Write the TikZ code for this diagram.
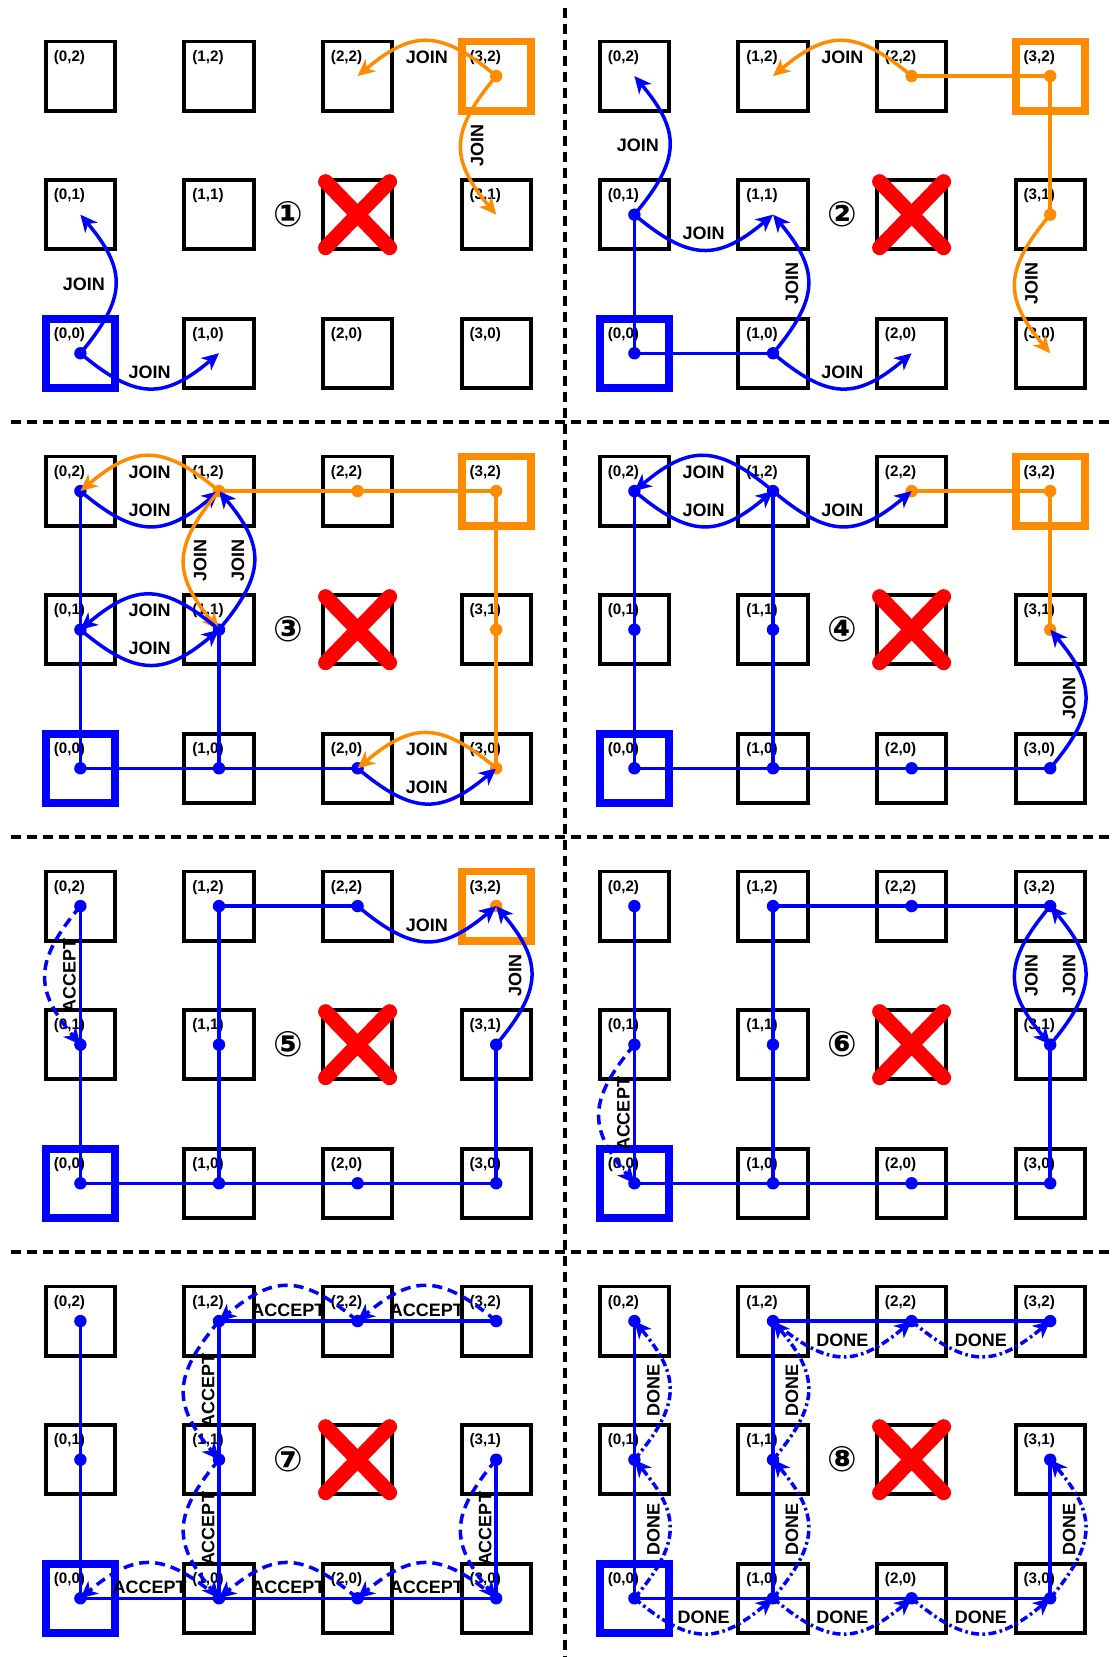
\documentclass[tikz,border=0pt]{standalone}
\usepackage{fontspec}
\setmainfont{Liberation Sans}
\newfontfamily\circfont{DejaVu Sans}
\usetikzlibrary{arrows.meta}
\definecolor{dkorange}{RGB}{255,140,0}

\begin{document}
\begin{tikzpicture}[x=0.5pt, y=0.5pt,
    cell/.style={draw, line width=1.95pt, minimum width=34.6pt, minimum height=34.6pt, inner sep=0pt, outer sep=0pt},
    hot/.style={line width=3.9pt},
    idx/.style={font=\bfseries\fontsize{7.6}{8}\selectfont, inner sep=0pt},
    txt/.style={font=\bfseries\fontsize{9}{10}\selectfont, inner sep=0pt, text=black},
    toN/.style={txt, shift={(0,#1)}}, toN/.default=16,
    toS/.style={txt, shift={(0,-#1)}}, toS/.default=16,
    toE/.style={txt, shift={(#1,0)}, rotate=90}, toE/.default=16,
    toW/.style={txt, shift={(-#1,0)}, rotate=90}, toW/.default=16,
    toWh/.style={txt, shift={(-#1,0)}}, toWh/.default=31.5,
    treeline/.style={line width=1.75pt},
    ahead/.style={-{Stealth[length=8.5pt, width=8pt, inset=2.5pt]}},
    joinarr/.style={treeline, ahead},
    accarr/.style={treeline, ahead, dash pattern=on 5pt off 3pt},
    donearr/.style={treeline, ahead, dash pattern=on 4pt off 1.7pt on 1.3pt off 1.7pt},
    bendarc/.style={bend right=40, looseness=1.34},
    sep/.style={line width=1.75pt, dash pattern=on 5pt off 3pt},
    redx/.style={red, line width=7.5pt, line cap=round}]
    \useasboundingbox (0,0) rectangle (1113,1657);

    % Separators
    \draw[sep] (565,1649) -- (565,0);
    \foreach \y in {1235,820,405} \draw[sep] (11,\y) -- (1113,\y);

    % Grids of the eight steps
    \foreach \pn/\col/\row/\num in {1/0/0/①, 2/1/0/②, 3/0/1/③, 4/1/1/④, 5/0/2/⑤, 6/1/2/⑥, 7/0/3/⑦, 8/1/3/⑧} {
        \begin{scope}[shift={(80.4+554*\col, 1303.7-415*\row)}]
            \foreach \i in {0,...,3} \foreach \j in {0,1,2} {
                \node[cell] (p\pn-\i\j) at (\i*138.6, \j*138.6) {};
                \ifnum\i\j=21 \else
                    \node[idx, shift={(-11,19)}] at (\i*138.6, \j*138.6) {(\i,\j)};
                \fi
            }
            \draw[redx] (245.2,105.6) -- (309.2,171.6);
            \draw[redx] (245.2,171.6) -- (309.2,105.6);
            \node[font=\circfont\bfseries\fontsize{17.5}{18}\selectfont, inner sep=0pt] (num\pn) at (207.9,138.6) {\num};
        \end{scope}
    }

    % Roots
    \foreach \pn in {1,...,8} \draw[hot, blue] (p\pn-00.south west) rectangle (p\pn-00.north east);
    \foreach \pn in {1,...,5} \draw[hot, dkorange] (p\pn-32.south west) rectangle (p\pn-32.north east);

    % Step 1
    \fill[blue] (p1-00.center) circle[radius=3.1pt];
    \fill[dkorange] (p1-32.center) circle[radius=3.1pt];
    \draw[joinarr, blue] (p1-00.center) to[bendarc] node[midway, toWh] {JOIN} (p1-01.center);
    \draw[joinarr, blue] (p1-00.center) to[bendarc] node[midway, toN] {JOIN} (p1-10.center);
    \draw[joinarr, dkorange] (p1-32.center) to[bendarc] node[midway, toS] {JOIN} (p1-22.center);
    \draw[joinarr, dkorange] (p1-32.center) to[bendarc] node[midway, toE] {JOIN} (p1-31.center);

    % Step 2
    \draw[treeline, blue] (p2-01.center) -- (p2-00.center) -- (p2-10.center);
    \draw[treeline, dkorange] (p2-22.center) -- (p2-32.center) -- (p2-31.center);
    \foreach \c in {00,01,10} \fill[blue] (p2-\c.center) circle[radius=3.1pt];
    \foreach \c in {22,32,31} \fill[dkorange] (p2-\c.center) circle[radius=3.1pt];
    \draw[joinarr, blue] (p2-01.center) to[bendarc] node[midway, toWh] {JOIN} (p2-02.center);
    \draw[joinarr, blue] (p2-01.center) to[bendarc] node[midway, toN] {JOIN} (p2-11.center);
    \draw[joinarr, blue] (p2-10.center) to[bendarc] node[midway, toW] {JOIN} (p2-11.center);
    \draw[joinarr, blue] (p2-10.center) to[bendarc] node[midway, toN] {JOIN} (p2-20.center);
    \draw[joinarr, dkorange] (p2-22.center) to[bendarc] node[midway, toS] {JOIN} (p2-12.center);
    \draw[joinarr, dkorange] (p2-31.center) to[bendarc] node[midway, toE] {JOIN} (p2-30.center);

    % Step 3
    \draw[treeline, blue] (p3-02.center) -- (p3-00.center) -- (p3-20.center);
    \draw[treeline, blue] (p3-10.center) -- (p3-11.center);
    \draw[treeline, dkorange] (p3-12.center) -- (p3-32.center) -- (p3-30.center);
    \foreach \c in {00,01,02,10,11,20} \fill[blue] (p3-\c.center) circle[radius=3.1pt];
    \foreach \c in {12,22,32,31,30} \fill[dkorange] (p3-\c.center) circle[radius=3.1pt];
    \draw[joinarr, blue] (p3-02.center) to[bendarc] node[midway, toN] {JOIN} (p3-12.center);
    \draw[joinarr, dkorange] (p3-12.center) to[bendarc] node[midway, toS] {JOIN} (p3-02.center);
    \draw[joinarr, blue] (p3-11.center) to[bendarc] node[midway, toW] {JOIN} (p3-12.center);
    \draw[joinarr, dkorange] (p3-12.center) to[bendarc] node[midway, toE] {JOIN} (p3-11.center);
    \draw[joinarr, blue] (p3-11.center) to[bendarc] node[midway, toS] {JOIN} (p3-01.center);
    \draw[joinarr, blue] (p3-01.center) to[bendarc] node[midway, toN] {JOIN} (p3-11.center);
    \draw[joinarr, blue] (p3-20.center) to[bendarc] node[midway, toN] {JOIN} (p3-30.center);
    \draw[joinarr, dkorange] (p3-30.center) to[bendarc] node[midway, toS] {JOIN} (p3-20.center);

    % Step 4
    \draw[treeline, blue] (p4-02.center) -- (p4-00.center) -- (p4-30.center);
    \draw[treeline, blue] (p4-10.center) -- (p4-12.center);
    \draw[treeline, dkorange] (p4-22.center) -- (p4-32.center) -- (p4-31.center);
    \foreach \c in {00,01,02,10,11,12,20,30} \fill[blue] (p4-\c.center) circle[radius=3.1pt];
    \foreach \c in {22,32,31} \fill[dkorange] (p4-\c.center) circle[radius=3.1pt];
    \draw[joinarr, blue] (p4-12.center) to[bendarc] node[midway, toS] {JOIN} (p4-02.center);
    \draw[joinarr, blue] (p4-02.center) to[bendarc] node[midway, toN] {JOIN} (p4-12.center);
    \draw[joinarr, blue] (p4-12.center) to[bendarc] node[midway, toN] {JOIN} (p4-22.center);
    \draw[joinarr, blue] (p4-30.center) to[bendarc] node[midway, toW] {JOIN} (p4-31.center);

    % Step 5
    \draw[treeline, blue] (p5-02.center) -- (p5-00.center) -- (p5-30.center) -- (p5-31.center);
    \draw[treeline, blue] (p5-10.center) -- (p5-12.center) -- (p5-22.center);
    \fill[dkorange] (p5-32.center) circle[radius=3.1pt];
    \foreach \c in {00,01,02,10,11,12,22,20,30,31} \fill[blue] (p5-\c.center) circle[radius=3.1pt];
    \draw[joinarr, blue] (p5-22.center) to[bendarc] node[midway, toN] {JOIN} (p5-32.center);
    \draw[joinarr, blue] (p5-31.center) to[bendarc] node[midway, toW] {JOIN} (p5-32.center);
    \draw[accarr, blue] (p5-02.center) to[bendarc] node[midway, toE=24] {ACCEPT} (p5-01.center);

    % Steps 6-8: one tree
    \foreach \pn in {6,7,8} {
        \draw[treeline, blue] (p\pn-02.center) -- (p\pn-00.center) -- (p\pn-30.center) -- (p\pn-31.center);
        \draw[treeline, blue] (p\pn-10.center) -- (p\pn-12.center) -- (p\pn-32.center);
        \foreach \c in {00,01,02,10,11,12,20,22,30,31,32} \fill[blue] (p\pn-\c.center) circle[radius=3.1pt];
    }

    % Step 6
    \draw[joinarr, blue] (p6-32.center) to[bendarc] node[midway, toE] {JOIN} (p6-31.center);
    \draw[joinarr, blue] (p6-31.center) to[bendarc] node[midway, toW] {JOIN} (p6-32.center);
    \draw[accarr, blue] (p6-01.center) to[bendarc] node[midway, toE=24] {ACCEPT} (p6-00.center);

    % Step 7
    \foreach \a/\b in {10/00, 20/10, 30/20, 22/12, 32/22}
        \draw[accarr, blue] (p7-\a.center) to[bendarc] node[midway, toS=24] {ACCEPT} (p7-\b.center);
    \foreach \a/\b in {12/11, 11/10, 31/30}
        \draw[accarr, blue] (p7-\a.center) to[bendarc] node[midway, toE=24] {ACCEPT} (p7-\b.center);

    % Step 8
    \foreach \a/\b in {00/10, 10/20, 20/30, 12/22, 22/32}
        \draw[donearr, blue] (p8-\a.center) to[bendarc] node[midway, toN] {DONE} (p8-\b.center);
    \foreach \a/\b in {00/01, 01/02, 10/11, 11/12, 30/31}
        \draw[donearr, blue] (p8-\a.center) to[bendarc] node[midway, toW] {DONE} (p8-\b.center);
\end{tikzpicture}
\end{document}
